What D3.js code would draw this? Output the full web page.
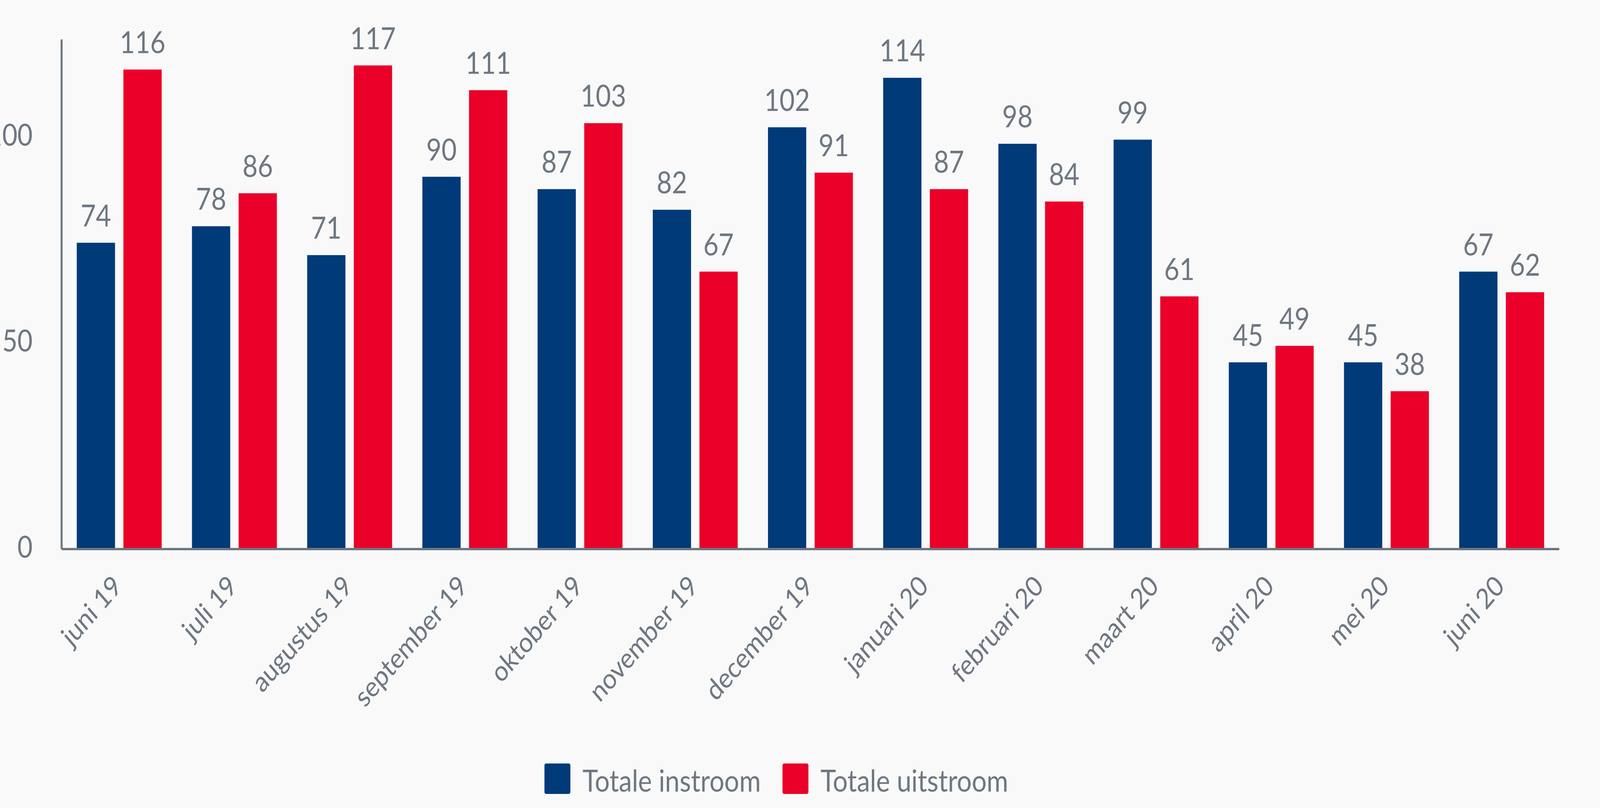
<!DOCTYPE html>
<html>
<head>
<meta charset="utf-8">
<script src="https://cdn.jsdelivr.net/npm/d3@7"></script>
<style>
    html, body { margin: 0; padding: 0; background: #f9f9f9; overflow: hidden; }
    svg { display: block; font-family: Lato, "Open Sans", sans-serif; }
</style>
</head>
<body>
<div id="chart"></div>
<script>
const months = ["juni 19", "juli 19", "augustus 19", "september 19", "oktober 19", "november 19",
    "december 19", "januari 20", "februari 20", "maart 20", "april 20", "mei 20", "juni 20"];
const seriesNames = ["Totale instroom", "Totale uitstroom"];
const instroom = [74, 78, 71, 90, 87, 82, 102, 114, 98, 99, 45, 45, 67];
const uitstroom = [116, 86, 117, 111, 103, 67, 91, 87, 84, 61, 49, 38, 62];
const yTicks = [0, 50, 100];
const yMax = 123.3;

const colors = ["#003a78", "#ea0029"];
const textColor = "#6e7781";

const W = 4752, H = 2069;
const margin = { top: 101, right: 121, bottom: 666, left: 183 };
const width = W - margin.left - margin.right;
const height = H - margin.top - margin.bottom;

const data = months.map((m, i) => ({ month: m, values: [instroom[i], uitstroom[i]] }));

// Fit the drawing to the viewport the browser really gives us
const svg = d3.select("#chart").append("svg")
    .attr("viewBox", `0 0 ${W} ${H}`)
    .attr("preserveAspectRatio", "none")
    .attr("width", window.innerWidth)
    .attr("height", window.innerHeight);

svg.append("rect").attr("width", W).attr("height", H).attr("fill", "#f9f9f9");

const g = svg.append("g")
    .attr("transform", `translate(${margin.left},${margin.top})`);

// Scales
const x0 = d3.scaleBand()
    .domain(months)
    .range([0, width])
    .paddingInner(0.263)
    .paddingOuter(0.1315);

const x1 = d3.scaleBand()
    .domain([0, 1])
    .range([0, x0.bandwidth()])
    .paddingInner(0.18);

const y = d3.scaleLinear()
    .domain([0, yMax])
    .range([height, 0]);

// Bars
const groups = g.selectAll(".group")
    .data(data)
    .enter().append("g")
    .attr("class", "group")
    .attr("transform", d => `translate(${x0(d.month)},0)`);

groups.selectAll("rect")
    .data(d => d.values)
    .enter().append("rect")
    .attr("x", (d, i) => x1(i))
    .attr("y", d => y(d))
    .attr("width", x1.bandwidth())
    .attr("height", d => height - y(d))
    .attr("fill", (d, i) => colors[i]);

// Value labels
groups.selectAll("text.val")
    .data(d => d.values)
    .enter().append("text")
    .attr("class", "val")
    .attr("x", (d, i) => x1(i) + x1.bandwidth() / 2)
    .attr("y", d => y(d) - 42)
    .attr("text-anchor", "middle")
    .attr("fill", textColor)
    .style("font-size", "78px")
    .text(d => d);

// Y axis
const yAxis = g.append("g")
    .call(d3.axisLeft(y).tickValues(yTicks).tickSize(0).tickPadding(86));
yAxis.select(".domain").attr("stroke", textColor).attr("stroke-width", 6)
    .attr("d", `M0,${height + 3}V0`);
yAxis.selectAll("text").attr("fill", textColor).style("font-size", "78px")
    .style("font-family", "Lato, sans-serif");

// X axis
const xAxis = g.append("g")
    .attr("transform", `translate(0,${height + 3})`)
    .call(d3.axisBottom(x0).tickSize(0).tickPadding(0));
xAxis.select(".domain").attr("stroke", textColor).attr("stroke-width", 6)
    .attr("d", `M0,0H${width}`);
xAxis.selectAll("text")
    .attr("fill", textColor)
    .style("font-size", "72px")
    .style("font-family", "Lato, sans-serif")
    .attr("text-anchor", "end")
    .attr("dy", null)
    .attr("y", null)
    .attr("transform", "translate(12,99) rotate(-45)");

// Legend
const legend = svg.append("g")
    .attr("transform", "translate(1617,1955)");
const legendX = [0, 707];
seriesNames.forEach((name, i) => {
    const item = legend.append("g").attr("transform", `translate(${legendX[i]},0)`);
    item.append("rect")
        .attr("width", 77)
        .attr("height", 78)
        .attr("rx", 5)
        .attr("fill", colors[i]);
    item.append("text")
        .attr("x", 113)
        .attr("y", 72)
        .attr("fill", textColor)
        .style("font-size", "78px")
        .text(name);
});
</script>
</body>
</html>
